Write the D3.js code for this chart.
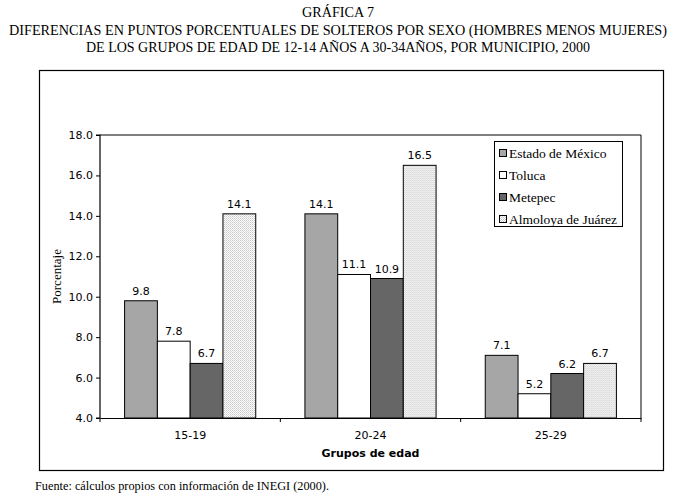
<!DOCTYPE html>
<html>
<head>
<meta charset="utf-8">
<script src="https://cdn.jsdelivr.net/npm/d3@7"></script>
<style>
  body { margin: 0; background: #fff; }
  svg { display: block; }
</style>
</head>
<body>
<div id="chart"></div>
<script>
// data
const categories = ["15-19", "20-24", "25-29"];
const seriesNames = ["Estado de México", "Toluca", "Metepec", "Almoloya de Juárez"];
const estado = [9.8, 14.1, 7.1];
const toluca = [7.8, 11.1, 5.2];
const metepec = [6.7, 10.9, 6.2];
const almoloya = [14.1, 16.5, 6.7];
const yTicks = [4, 6, 8, 10, 12, 14, 16, 18];
const titleLines = [
  "GRÁFICA 7",
  "DIFERENCIAS EN PUNTOS PORCENTUALES DE SOLTEROS POR SEXO (HOMBRES MENOS MUJERES)",
  "DE LOS GRUPOS DE EDAD DE 12-14 AÑOS A 30-34AÑOS, POR MUNICIPIO, 2000"
];
const source = "Fuente: cálculos propios con información de INEGI (2000).";

const seriesValues = [estado, toluca, metepec, almoloya];

const width = 676, height = 498;
const serif = "'Liberation Serif', 'Times New Roman', serif";
const sans = "'DejaVu Sans', Verdana, sans-serif";

const svg = d3.select("#chart")
  .append("svg")
  .attr("width", width)
  .attr("height", height);

// pattern for the dotted bars
const defs = svg.append("defs");
const pat = defs.append("pattern")
  .attr("id", "dots")
  .attr("patternUnits", "userSpaceOnUse")
  .attr("width", 2)
  .attr("height", 2);
pat.append("rect").attr("width", 2).attr("height", 2).attr("fill", "#fff");
pat.append("rect").attr("width", 1).attr("height", 1).attr("fill", "#c4c4c4");
pat.append("rect").attr("x", 1).attr("y", 1).attr("width", 1).attr("height", 1).attr("fill", "#d8d8d8");

const fills = ["#a6a6a6", "#ffffff", "#666666", "url(#dots)"];

// titles
const titleWidths = [72, 658, 504];
const titleY = [17, 35, 52];
svg.selectAll("text.title")
  .data(titleLines)
  .join("text")
  .attr("class", "title")
  .attr("x", width / 2)
  .attr("y", (d, i) => titleY[i])
  .attr("text-anchor", "middle")
  .attr("textLength", (d, i) => titleWidths[i])
  .attr("lengthAdjust", "spacingAndGlyphs")
  .style("font-family", serif)
  .style("font-size", "14px")
  .text(d => d);

// outer frame
svg.append("rect")
  .attr("x", 39.5)
  .attr("y", 70.5)
  .attr("width", 624)
  .attr("height", 400)
  .attr("fill", "none")
  .attr("stroke", "#000")
  .attr("stroke-width", 1.2);

// plot area
const plot = { left: 100, top: 135, right: 641, bottom: 418 };

const x0 = d3.scaleBand()
  .domain(categories)
  .range([plot.left, plot.right])
  .paddingInner(0)
  .paddingOuter(0);

const x1 = d3.scaleBand()
  .domain(d3.range(seriesNames.length))
  .range([0, x0.bandwidth()])
  .paddingOuter(0.75)
  .paddingInner(0);

const y = d3.scaleLinear()
  .domain([4, 18])
  .range([plot.bottom, plot.top]);

// plot border (top and right)
svg.append("path")
  .attr("d", `M${plot.left},${plot.top}H${plot.right}V${plot.bottom}`)
  .attr("fill", "none")
  .attr("stroke", "#000")
  .attr("stroke-width", 1);

// bars
const groups = svg.selectAll("g.group")
  .data(categories)
  .join("g")
  .attr("class", "group")
  .attr("transform", d => `translate(${x0(d)},0)`);

groups.selectAll("rect")
  .data((c, ci) => seriesValues.map((vals, si) => ({ si: si, v: vals[ci] })))
  .join("rect")
  .attr("x", d => x1(d.si))
  .attr("y", d => y(d.v))
  .attr("width", x1.bandwidth())
  .attr("height", d => y(4) - y(d.v))
  .attr("fill", d => fills[d.si])
  .attr("stroke", "#000")
  .attr("stroke-width", 1);

groups.selectAll("text.val")
  .data((c, ci) => seriesValues.map((vals, si) => ({ si: si, v: vals[ci] })))
  .join("text")
  .attr("class", "val")
  .attr("x", d => x1(d.si) + x1.bandwidth() / 2)
  .attr("y", d => y(d.v) - 6)
  .attr("text-anchor", "middle")
  .style("font-family", sans)
  .style("font-size", "11px")
  .text(d => d.v.toFixed(1));

// y axis
const yAxis = svg.append("g")
  .attr("transform", `translate(${plot.left},0)`)
  .call(d3.axisLeft(y).tickValues(yTicks).tickFormat(d3.format(".1f")).tickSize(4).tickPadding(3));
yAxis.select(".domain").attr("stroke", "#000").attr("stroke-width", 1.2).attr("d", `M-4,${plot.top}H0V${plot.bottom}H-4`);
yAxis.selectAll("text").style("font-family", sans).style("font-size", "11px").attr("fill", "#000");

// x axis
const xAxis = svg.append("g")
  .attr("transform", `translate(0,${plot.bottom})`)
  .call(d3.axisBottom(x0).tickSize(0).tickPadding(13));
xAxis.select(".domain").attr("stroke", "#000").attr("stroke-width", 1.2);
xAxis.selectAll("text").style("font-family", sans).style("font-size", "11px").attr("fill", "#000");
xAxis.selectAll("line.sep")
  .data(categories.slice(1))
  .join("line")
  .attr("class", "sep")
  .attr("x1", d => x0(d))
  .attr("x2", d => x0(d))
  .attr("y1", 0)
  .attr("y2", 4)
  .attr("stroke", "#000");
xAxis.selectAll("line.sep-end")
  .data([plot.left, plot.right])
  .join("line")
  .attr("class", "sep-end")
  .attr("x1", d => d)
  .attr("x2", d => d)
  .attr("y1", 0)
  .attr("y2", 4)
  .attr("stroke", "#000");

// axis titles
svg.append("text")
  .attr("x", (plot.left + plot.right) / 2)
  .attr("y", 457)
  .attr("text-anchor", "middle")
  .style("font-family", sans)
  .style("font-size", "11px")
  .style("font-weight", "bold")
  .text("Grupos de edad");

svg.append("text")
  .attr("transform", `translate(61,${(plot.top + plot.bottom) / 2}) rotate(-90)`)
  .attr("text-anchor", "middle")
  .style("font-family", serif)
  .style("font-size", "13px")
  .text("Porcentaje");

// legend
const legend = svg.append("g").attr("transform", "translate(494,141)");
legend.append("rect")
  .attr("x", 0.5)
  .attr("y", 0.5)
  .attr("width", 128)
  .attr("height", 85)
  .attr("fill", "#fff")
  .attr("stroke", "#000");

const items = legend.selectAll("g.item")
  .data(seriesNames)
  .join("g")
  .attr("class", "item")
  .attr("transform", (d, i) => `translate(5,${12 + i * 22})`);

items.append("rect")
  .attr("x", 0.5)
  .attr("y", -3.5)
  .attr("width", 7)
  .attr("height", 7)
  .attr("fill", (d, i) => fills[i])
  .attr("stroke", "#000");

items.append("text")
  .attr("x", 10)
  .attr("y", 4.5)
  .style("font-family", serif)
  .style("font-size", "13.5px")
  .text(d => d);

// source
svg.append("text")
  .attr("x", 35)
  .attr("y", 490)
  .attr("textLength", 294)
  .attr("lengthAdjust", "spacingAndGlyphs")
  .style("font-family", serif)
  .style("font-size", "13px")
  .text(source);
</script>
</body>
</html>
